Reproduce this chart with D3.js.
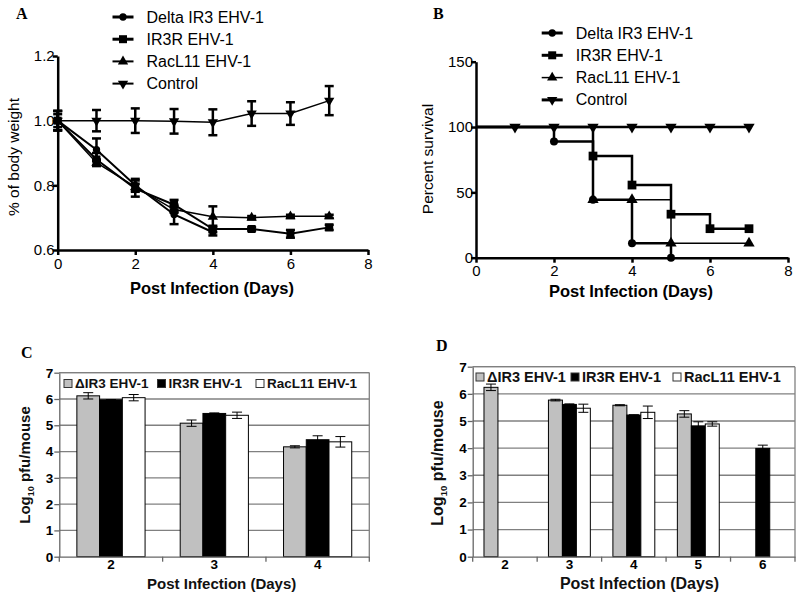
<!DOCTYPE html>
<html>
<head>
<meta charset="utf-8">
<script src="https://cdn.jsdelivr.net/npm/d3@7"></script>
<style>
body { margin: 0; background: #fff; }
svg { display: block; font-family: "Liberation Sans", Arial, sans-serif; }
.panel-label { font-family: "Liberation Serif", "Times New Roman", serif; font-weight: bold; font-size: 16px; }
</style>
</head>
<body>
<svg id="chart" width="800" height="595"></svg>
<script>
// ---- panel A: body weight ----
const daysA = [0, 1, 2, 3, 4, 5, 6, 7];
const weightDelta = [1.0, 0.91, 0.80, 0.71, 0.655, null, null, null];
const weightDeltaErr = [0.03, 0.035, 0.02, 0.03, 0.01, null, null, null];
const weightIR3R = [1.0, 0.88, 0.79, 0.74, 0.665, 0.665, 0.65, 0.67];
const weightIR3RErr = [0.03, 0.02, 0.025, 0.015, 0.01, 0.005, 0.012, 0.008];
const weightRacL11 = [1.0, 0.87, 0.795, 0.725, 0.703, 0.70, 0.704, 0.704];
const weightRacL11Err = [0.02, 0.01, 0.01, 0.01, 0.032, 0.005, 0.005, 0.005];
const weightControl = [1.0, 1.0, 1.0, 0.998, 0.995, 1.022, 1.022, 1.062];
const weightControlErr = [0.03, 0.033, 0.038, 0.038, 0.04, 0.038, 0.035, 0.045];
const ticksAX = [0, 2, 4, 6, 8];
const ticksAY = [0.6, 0.8, 1.0, 1.2];

// ---- panel B: survival (event times and percent surviving) ----
const survDeltaDays = [0, 2, 3, 4, 5];
const survDelta = [100, 88.9, 44.4, 11.1, 0];
const survIR3RDays = [0, 3, 4, 5, 6, 7];
const survIR3R = [100, 77.8, 55.6, 33.3, 22.2, 22.2];
const survRacL11Days = [0, 3, 4, 5, 7];
const survRacL11 = [100, 44.4, 44.4, 11.1, 11.1];
const survControlDays = [0, 1, 2, 3, 4, 5, 6, 7];
const survControl = [100, 100, 100, 100, 100, 100, 100, 100];
const ticksBX = [0, 2, 4, 6, 8];
const ticksBY = [0, 50, 100, 150];

// ---- panel C: virus titre ----
const daysC = ["2", "3", "4"];
const titreCDelta = [6.12, 5.08, 4.18];
const titreCDeltaErr = [0.12, 0.12, 0.04];
const titreCIR3R = [5.97, 5.45, 4.45];
const titreCIR3RErr = [0.01, 0.02, 0.15];
const titreCRacL11 = [6.05, 5.38, 4.37];
const titreCRacL11Err = [0.12, 0.12, 0.2];

// ---- panel D: virus titre ----
const daysD = ["2", "3", "4", "5", "6"];
const titreDDelta = [6.24, 5.77, 5.58, 5.26, null];
const titreDDeltaErr = [0.12, 0.03, 0.02, 0.12, null];
const titreDIR3R = [null, 5.61, 5.22, 4.82, 3.99];
const titreDIR3RErr = [null, 0.02, 0.01, 0.15, 0.12];
const titreDRacL11 = [null, 5.47, 5.32, 4.89, null];
const titreDRacL11Err = [null, 0.15, 0.23, 0.08, null];
const ticksCD = [0, 1, 2, 3, 4, 5, 6, 7];

const lineNames = ["Delta IR3 EHV-1", "IR3R EHV-1", "RacL11 EHV-1", "Control"];
const barNames = ["\u0394IR3 EHV-1", "IR3R EHV-1", "RacL11 EHV-1"];
const barFills = ["#c0c0c0", "#000000", "#ffffff"];

var svg = d3.select("#chart");

var symbolTypes = [d3.symbolCircle, d3.symbolSquare, d3.symbolTriangle, d3.symbolTriangle];
var symbolSizes = [42, 64, 46, 46];
function marker(g, i, x, y, scale) {
    var s = scale || 1;
    g.append("path")
        .attr("d", d3.symbol().type(symbolTypes[i]).size(symbolSizes[i] * s)())
        .attr("transform", "translate(" + x + "," + y + ")" + (i === 3 ? " rotate(180)" : ""))
        .attr("fill", "#000");
}

function styleAxis(g, w, fs, bold) {
    g.select(".domain").attr("stroke", "#000").attr("stroke-width", w);
    g.selectAll(".tick line").attr("stroke", "#000").attr("stroke-width", w);
    g.selectAll(".tick text").attr("fill", "#000").style("font-size", fs + "px")
        .style("font-weight", bold ? "bold" : "normal");
}

function lineLegend(x0, y0, dy, widths) {
    lineNames.forEach(function(name, i) {
        var y = y0 + i * dy;
        svg.append("line").attr("x1", x0).attr("x2", x0 + 21).attr("y1", y).attr("y2", y)
            .attr("stroke", "#000").attr("stroke-width", widths[i]);
        marker(svg, i, x0 + 10.5, y);
        svg.append("text").attr("x", x0 + 34).attr("y", y + 5.5)
            .style("font-size", "16px").text(name);
    });
}

// ================= A =================
(function() {
    var x = d3.scaleLinear().domain([0, 8]).range([57.7, 368]);
    var y = d3.scaleLinear().domain([0.6, 1.2]).range([250, 56]);
    var series = [
        { v: weightDelta, e: weightDeltaErr, w: 2 },
        { v: weightIR3R, e: weightIR3RErr, w: 2 },
        { v: weightRacL11, e: weightRacL11Err, w: 1.5 },
        { v: weightControl, e: weightControlErr, w: 1.5 }
    ];
    var g = svg.append("g");
    series.forEach(function(s, i) {
        var pts = daysA.map(function(d, k) { return { d: d, v: s.v[k], e: s.e[k] }; })
            .filter(function(p) { return p.v !== null; });
        g.append("path").datum(pts)
            .attr("d", d3.line().x(function(p) { return x(p.d); }).y(function(p) { return y(p.v); }))
            .attr("fill", "none").attr("stroke", "#000").attr("stroke-width", s.w);
        pts.forEach(function(p) {
            var cx = x(p.d);
            g.append("line").attr("x1", cx).attr("x2", cx).attr("y1", y(p.v - p.e)).attr("y2", y(p.v + p.e))
                .attr("stroke", "#000").attr("stroke-width", 2.5);
            [p.v - p.e, p.v + p.e].forEach(function(c) {
                g.append("line").attr("x1", cx - 4.5).attr("x2", cx + 4.5).attr("y1", y(c)).attr("y2", y(c))
                    .attr("stroke", "#000").attr("stroke-width", 2.5);
            });
            marker(g, i, cx, y(p.v));
        });
    });
    var ax = svg.append("g").attr("transform", "translate(0,250)")
        .call(d3.axisBottom(x).tickValues(ticksAX).tickSize(5).tickSizeOuter(0).tickFormat(d3.format("d")));
    styleAxis(ax, 2.5, 15, false);
    var ay = svg.append("g").attr("transform", "translate(57.7,0)")
        .call(d3.axisLeft(y).tickValues(ticksAY).tickSize(5).tickSizeOuter(0).tickFormat(d3.format(".1f")));
    styleAxis(ay, 2.5, 15, false);
    ay.selectAll(".tick text").attr("x", -3);
    svg.append("text").attr("x", 212).attr("y", 294).attr("text-anchor", "middle")
        .style("font-size", "16.5px").style("font-weight", "bold").text("Post Infection (Days)");
    svg.append("text").attr("transform", "translate(19,157) rotate(-90)").attr("text-anchor", "middle")
        .style("font-size", "15.5px").text("% of body weight");
    lineLegend(112.5, 17, 22.2, [3, 3, 2, 2]);
    svg.append("text").attr("class", "panel-label").attr("x", 16).attr("y", 19).text("A");
})();

// ================= B =================
(function() {
    var x = d3.scaleLinear().domain([0, 8]).range([476, 788]);
    var y = d3.scaleLinear().domain([0, 150]).range([257.7, 61.7]);
    var series = [
        { d: survDeltaDays, v: survDelta, w: 2.5 },
        { d: survIR3RDays, v: survIR3R, w: 2.5 },
        { d: survRacL11Days, v: survRacL11, w: 1.5 },
        { d: survControlDays, v: survControl, w: 2.5 }
    ];
    var g = svg.append("g");
    var step = d3.line().curve(d3.curveStepAfter)
        .x(function(p) { return x(p[0]); }).y(function(p) { return y(p[1]); });
    series.forEach(function(s, i) {
        var pts = s.d.map(function(d, k) { return [d, s.v[k]]; });
        g.append("path").datum(pts).attr("d", step)
            .attr("fill", "none").attr("stroke", "#000").attr("stroke-width", s.w);
        pts.slice(1).forEach(function(p) { marker(g, i, x(p[0]), y(p[1]), 1.2); });
    });
    var ax = svg.append("g").attr("transform", "translate(0,257.7)")
        .call(d3.axisBottom(x).tickValues(ticksBX).tickSize(5).tickSizeOuter(0).tickFormat(d3.format("d")));
    styleAxis(ax, 2.5, 15, false);
    var ay = svg.append("g").attr("transform", "translate(476,0)")
        .call(d3.axisLeft(y).tickValues(ticksBY).tickSize(5).tickSizeOuter(0));
    styleAxis(ay, 2.5, 15, false);
    ay.selectAll(".tick text").attr("x", -3);
    svg.append("text").attr("x", 631).attr("y", 297).attr("text-anchor", "middle")
        .style("font-size", "16.5px").style("font-weight", "bold").text("Post Infection (Days)");
    svg.append("text").attr("transform", "translate(433,159) rotate(-90)").attr("text-anchor", "middle")
        .style("font-size", "15.5px").text("Percent survival");
    lineLegend(541.7, 33, 22.3, [3, 3, 1.5, 3]);
    svg.append("text").attr("class", "panel-label").attr("x", 433).attr("y", 19).text("B");
})();

// ================= bar panels =================
function barPanel(opt) {
    var x = d3.scaleBand().domain(opt.days).range([opt.left, opt.right])
        .paddingInner(opt.pad).paddingOuter(opt.pad / 2);
    var xi = d3.scaleBand().domain([0, 1, 2]).range([0, x.bandwidth()]);
    var y = d3.scaleLinear().domain([0, 7]).range([opt.bottom, opt.top]);
    var g = svg.append("g");
    // gridlines and frame
    ticksCD.slice(1).forEach(function(t) {
        g.append("line").attr("x1", opt.left).attr("x2", opt.right).attr("y1", y(t)).attr("y2", y(t))
            .attr("stroke", "#808080").attr("stroke-width", 1.3);
    });
    g.append("line").attr("x1", opt.right).attr("x2", opt.right).attr("y1", opt.top).attr("y2", opt.bottom)
        .attr("stroke", "#808080").attr("stroke-width", 1.3);
    opt.series.forEach(function(s, si) {
        opt.days.forEach(function(d, k) {
            if (s.v[k] === null) return;
            var bx = x(d) + xi(si), bw = xi.bandwidth();
            g.append("rect").attr("x", bx).attr("y", y(s.v[k])).attr("width", bw)
                .attr("height", y(0) - y(s.v[k]))
                .attr("fill", barFills[si]).attr("stroke", "#000").attr("stroke-width", 1);
            var cx = bx + bw / 2, lo = y(s.v[k] - s.e[k]), hi = y(s.v[k] + s.e[k]);
            g.append("line").attr("x1", cx).attr("x2", cx).attr("y1", lo).attr("y2", hi)
                .attr("stroke", "#000").attr("stroke-width", 1);
            [lo, hi].forEach(function(c) {
                g.append("line").attr("x1", cx - 5).attr("x2", cx + 5).attr("y1", c).attr("y2", c)
                    .attr("stroke", "#000").attr("stroke-width", 1);
            });
        });
    });
    var ay = svg.append("g").attr("transform", "translate(" + opt.left + ",0)")
        .call(d3.axisLeft(y).tickValues(ticksCD).tickSize(5).tickSizeOuter(0).tickFormat(d3.format("d")));
    styleAxis(ay, 1.3, opt.tickFont, true);
    ay.select(".domain").attr("stroke", "#666");
    ay.selectAll(".tick line").attr("stroke", "#666");
    ay.selectAll(".tick text").attr("x", -6);
    var ax = svg.append("g").attr("transform", "translate(0," + opt.bottom + ")")
        .call(d3.axisBottom(x).tickSize(0).tickSizeOuter(0));
    styleAxis(ax, 1.3, opt.tickFont, true);
    ax.select(".domain").attr("stroke", "#666");
    ax.selectAll(".tick text").attr("y", 2.5);
    // tick marks between categories
    var step = x.step();
    d3.range(opt.days.length + 1).forEach(function(k) {
        var tx = opt.left + k * step;
        ax.append("line").attr("x1", tx).attr("x2", tx).attr("y1", 0).attr("y2", 5)
            .attr("stroke", "#666").attr("stroke-width", 1.3);
    });
    // top frame
    g.append("line").attr("x1", opt.left).attr("x2", opt.right).attr("y1", opt.top).attr("y2", opt.top)
        .attr("stroke", "#808080").attr("stroke-width", 1.3);
    // legend
    barNames.forEach(function(name, i) {
        var lx = opt.legendX[i];
        svg.append("rect").attr("x", lx - 4).attr("y", opt.legendY - 4).attr("width", 8).attr("height", 8)
            .attr("fill", barFills[i]).attr("stroke", "#333").attr("stroke-width", 1);
        svg.append("text").attr("x", lx + 7).attr("y", opt.legendY + opt.legendFont * 0.36)
            .style("font-size", opt.legendFont + "px").style("font-weight", "bold").attr("fill", "#111")
            .text(name);
    });
    svg.append("text").attr("x", opt.titleX).attr("y", opt.bottom + 32).attr("text-anchor", "middle")
        .style("font-size", opt.titleFont + "px").style("font-weight", "bold").attr("fill", "#111")
        .text("Post Infection (Days)");
    var yl = svg.append("text")
        .attr("transform", "translate(" + opt.ylabX + "," + opt.ylabY + ") rotate(-90)")
        .attr("text-anchor", "middle").style("font-size", opt.titleFont + "px").style("font-weight", "bold")
        .attr("fill", "#111");
    yl.append("tspan").text("Log");
    yl.append("tspan").attr("dy", 4).style("font-size", (opt.titleFont * 0.6) + "px").text("10");
    yl.append("tspan").attr("dy", -4).text(" pfu/mouse");
    svg.append("text").attr("class", "panel-label").attr("x", opt.labelX).attr("y", opt.labelY).text(opt.label);
}

barPanel({
    days: daysC, left: 59.3, right: 369.3, top: 372.7, bottom: 556.7, pad: 0.34,
    series: [
        { v: titreCDelta, e: titreCDeltaErr },
        { v: titreCIR3R, e: titreCIR3RErr },
        { v: titreCRacL11, e: titreCRacL11Err }
    ],
    tickFont: 13.5, legendFont: 13.5, legendX: [68, 161.5, 260], legendY: 383.5,
    titleX: 221.7, titleFont: 15, ylabX: 30, ylabY: 465, label: "C", labelX: 21, labelY: 358
});

barPanel({
    days: daysD, left: 472.7, right: 795, top: 366.7, bottom: 556.7, pad: 0.35,
    series: [
        { v: titreDDelta, e: titreDDeltaErr },
        { v: titreDIR3R, e: titreDIR3RErr },
        { v: titreDRacL11, e: titreDRacL11Err }
    ],
    tickFont: 13.5, legendFont: 14.5, legendX: [480, 575, 677], legendY: 377,
    titleX: 639.5, titleFont: 16, ylabX: 443, ylabY: 463, label: "D", labelX: 436, labelY: 351
});
</script>
</body>
</html>
